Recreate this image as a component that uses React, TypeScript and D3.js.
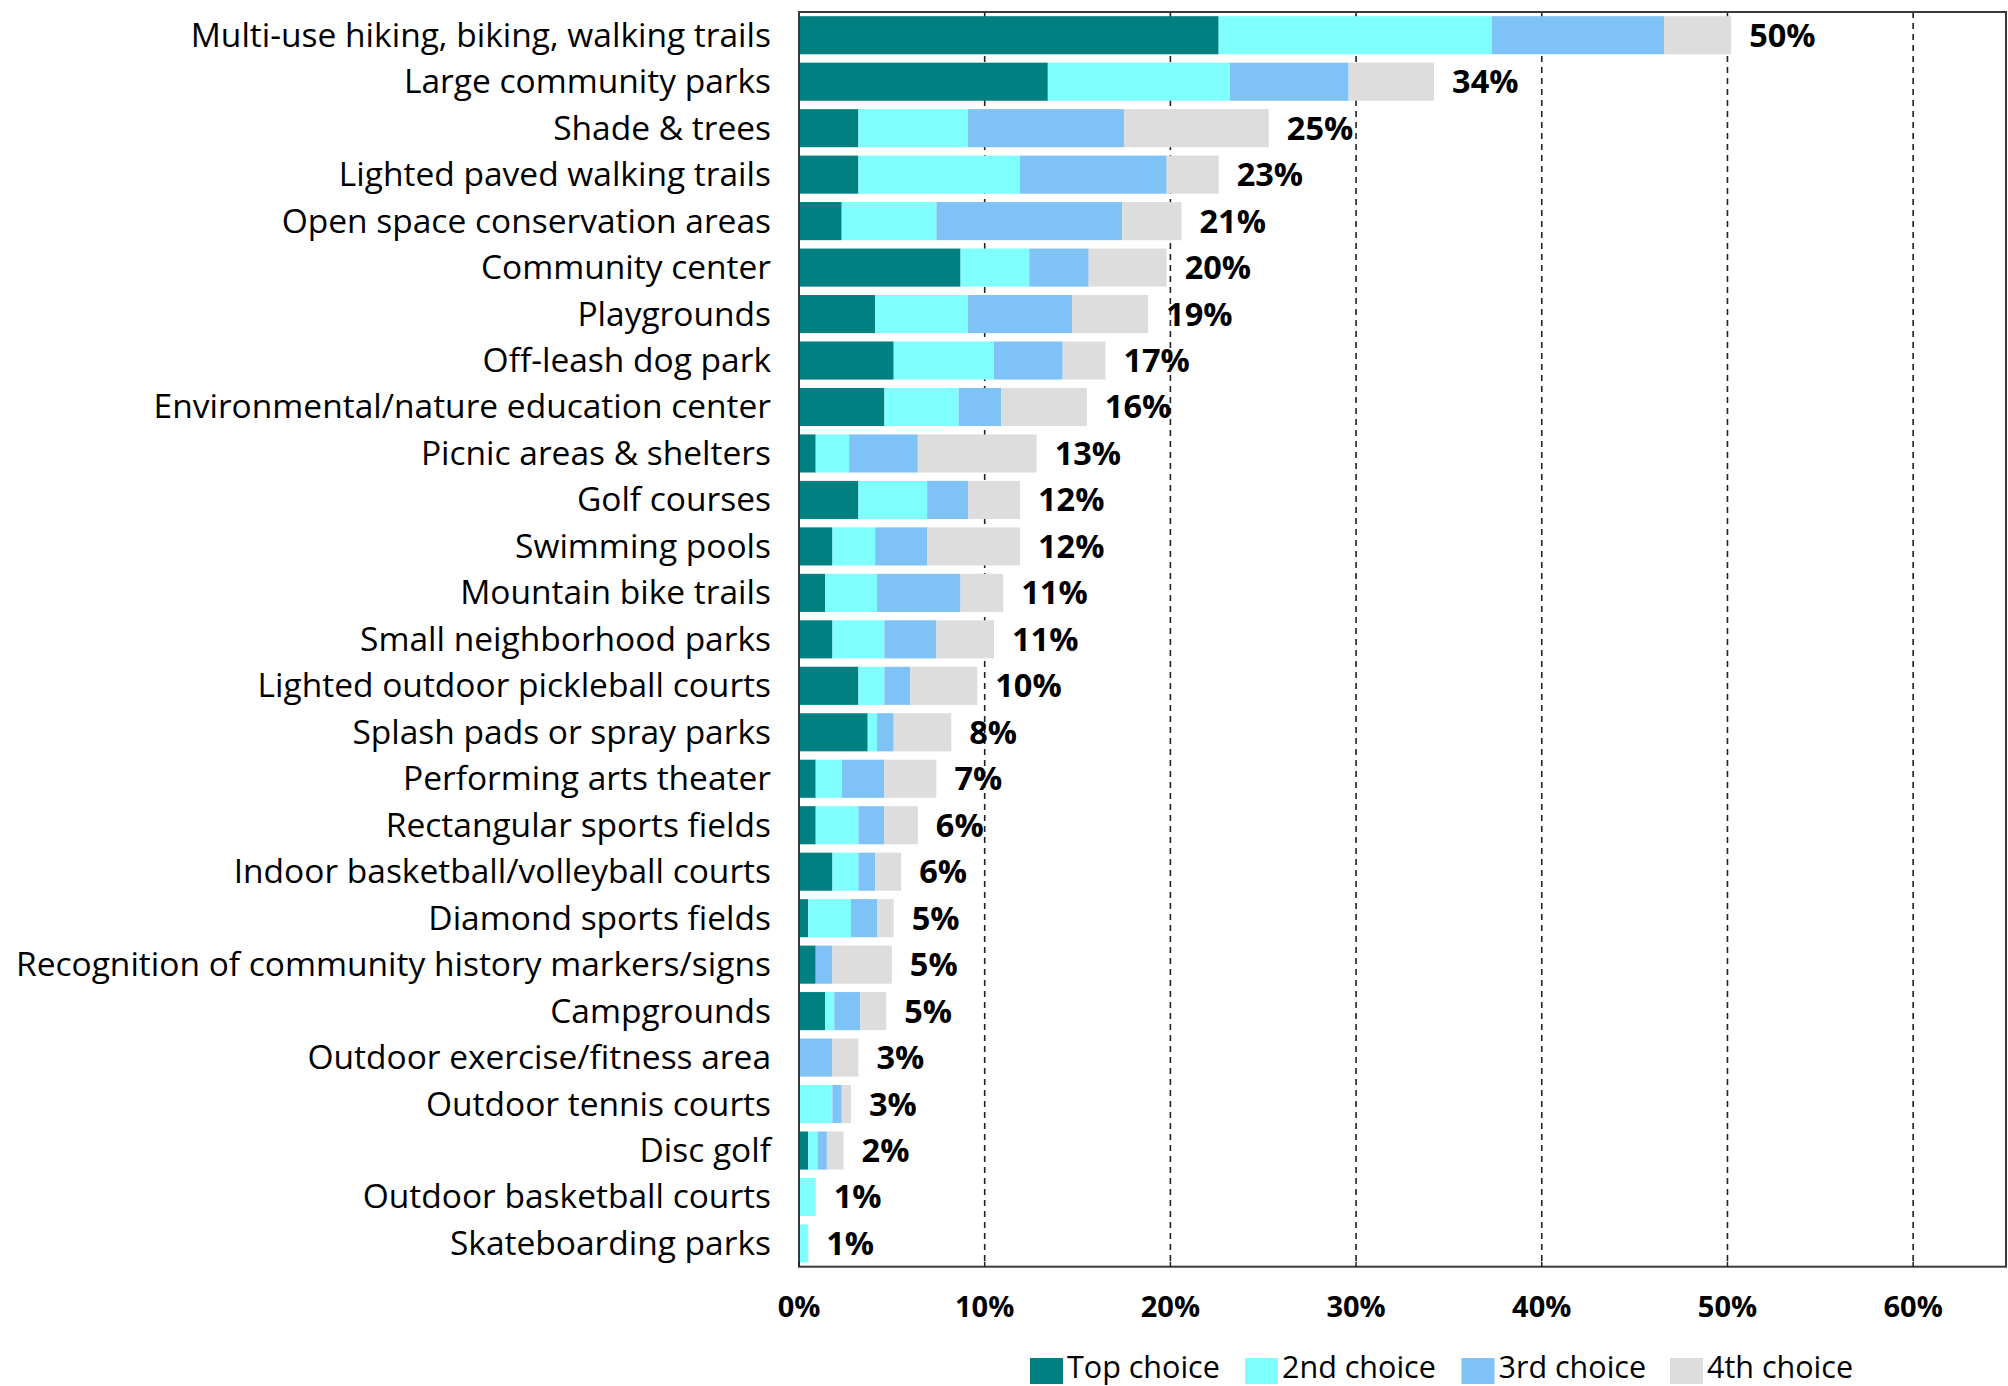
import React from "react";
import * as d3 from "d3";

const categories = [
  "Multi-use hiking, biking, walking trails",
  "Large community parks",
  "Shade & trees",
  "Lighted paved walking trails",
  "Open space conservation areas",
  "Community center",
  "Playgrounds",
  "Off-leash dog park",
  "Environmental/nature education center",
  "Picnic areas & shelters",
  "Golf courses",
  "Swimming pools",
  "Mountain bike trails",
  "Small neighborhood parks",
  "Lighted outdoor pickleball courts",
  "Splash pads or spray parks",
  "Performing arts theater",
  "Rectangular sports fields",
  "Indoor basketball/volleyball courts",
  "Diamond sports fields",
  "Recognition of community history markers/signs",
  "Campgrounds",
  "Outdoor exercise/fitness area",
  "Outdoor tennis courts",
  "Disc golf",
  "Outdoor basketball courts",
  "Skateboarding parks",
];

// percent values per choice
const topChoice = [22.6, 13.4, 3.2, 3.2, 2.3, 8.7, 4.1, 5.1, 4.6, 0.9, 3.2, 1.8, 1.4, 1.8, 3.2, 3.7, 0.9, 0.9, 1.8, 0.5, 0.9, 1.4, 0, 0, 0.5, 0, 0];
const secondChoice = [14.7, 9.8, 5.9, 8.7, 5.1, 3.7, 5.0, 5.4, 4.0, 1.8, 3.7, 2.3, 2.8, 2.8, 1.4, 0.5, 1.4, 2.3, 1.4, 2.3, 0, 0.5, 0, 1.8, 0.5, 0.9, 0.5];
const thirdChoice = [9.3, 6.4, 8.4, 7.9, 10.0, 3.2, 5.6, 3.7, 2.3, 3.7, 2.2, 2.8, 4.5, 2.8, 1.4, 0.9, 2.3, 1.4, 0.9, 1.4, 0.9, 1.4, 1.8, 0.5, 0.5, 0, 0];
const fourthChoice = [3.6, 4.6, 7.8, 2.8, 3.2, 4.2, 4.1, 2.3, 4.6, 6.4, 2.8, 5.0, 2.3, 3.1, 3.6, 3.1, 2.8, 1.8, 1.4, 0.9, 3.2, 1.4, 1.4, 0.5, 0.9, 0, 0];
const totalLabels = ["50%", "34%", "25%", "23%", "21%", "20%", "19%", "17%", "16%", "13%", "12%", "12%", "11%", "11%", "10%", "8%", "7%", "6%", "6%", "5%", "5%", "5%", "3%", "3%", "2%", "1%", "1%"];

const seriesNames = ["Top choice", "2nd choice", "3rd choice", "4th choice"];
const seriesColors = ["#008080", "#80FFFF", "#7FC2F6", "#DDDDDD"];
const xTicks = [0, 10, 20, 30, 40, 50, 60];

const W = 2008;
const H = 1386;
const FONT = "'Open Sans', 'Noto Sans', sans-serif";

export default function App() {
  const left = 799;
  const right = 2006;
  const top = 12;
  const bottom = 1266.7;

  const x = d3.scaleLinear().domain([0, 65]).range([left, right]);
  const y = d3
    .scaleBand<string>()
    .domain(categories)
    .range([top, bottom])
    .paddingInner(0.18)
    .paddingOuter(0.09);

  const rows = categories.map((c, i) => ({
    cat: c,
    s0: topChoice[i],
    s1: secondChoice[i],
    s2: thirdChoice[i],
    s3: fourthChoice[i],
  }));
  const keys = ["s0", "s1", "s2", "s3"];
  const stacked = d3.stack<any>().keys(keys)(rows);

  const legendStarts = [1030, 1245, 1461.5, 1670];

  return (
    <svg
      width={W}
      height={H}
      style={{ position: "absolute", left: 0, top: 0, background: "#fff" }}
      fontFamily={FONT}
    >
      <rect x={0} y={0} width={W} height={H} fill="#fff" />
      {/* gridlines */}
      {xTicks
        .filter((t) => t > 0)
        .map((t) => (
          <line
            key={"g" + t}
            x1={x(t)}
            x2={x(t)}
            y1={top}
            y2={bottom}
            stroke="#222"
            strokeWidth={1.6}
            strokeDasharray="6,5"
          />
        ))}
      {/* bars */}
      {stacked.map((layer, li) => (
        <g key={"l" + li} fill={seriesColors[li]}>
          {layer.map((d, i) =>
            d[1] - d[0] > 0 ? (
              <rect
                key={i}
                x={x(d[0])}
                y={y(categories[i])}
                width={x(d[1]) - x(d[0])}
                height={y.bandwidth()}
              />
            ) : null
          )}
        </g>
      ))}
      {/* frame */}
      <rect
        x={left}
        y={top}
        width={right - left}
        height={bottom - top}
        fill="none"
        stroke="#3a3a3a"
        strokeWidth={2}
      />
      {/* tick marks */}
      {xTicks.map((t) => (
        <line key={"t" + t} x1={x(t)} x2={x(t)} y1={bottom - 5} y2={bottom} stroke="#222" strokeWidth={1.5} />
      ))}
      {/* category labels */}
      {categories.map((c) => (
        <text
          key={"c" + c}
          x={771}
          y={(y(c) as number) + y.bandwidth() / 2 + 11.5}
          textAnchor="end"
          fontSize={33.5}
          fill="#000"
        >
          {c}
        </text>
      ))}
      {/* total labels */}
      {categories.map((c, i) => {
        const total = topChoice[i] + secondChoice[i] + thirdChoice[i] + fourthChoice[i];
        return (
          <text
            key={"v" + c}
            x={x(total) + 18}
            y={(y(c) as number) + y.bandwidth() / 2 + 11.5}
            fontSize={32.5}
            fontWeight="bold"
            fill="#000"
          >
            {totalLabels[i]}
          </text>
        );
      })}
      {/* x tick labels */}
      {xTicks.map((t) => (
        <text key={"xl" + t} x={x(t)} y={1317} textAnchor="middle" fontSize={29} fontWeight="bold" fill="#000">
          {t + "%"}
        </text>
      ))}
      {/* legend */}
      {seriesNames.map((n, i) => (
        <g key={"lg" + n}>
          <rect x={legendStarts[i]} y={1358} width={33} height={26} fill={seriesColors[i]} />
          <text x={legendStarts[i] + 37} y={1378} fontSize={30.5} fill="#000">
            {n}
          </text>
        </g>
      ))}
    </svg>
  );
}
